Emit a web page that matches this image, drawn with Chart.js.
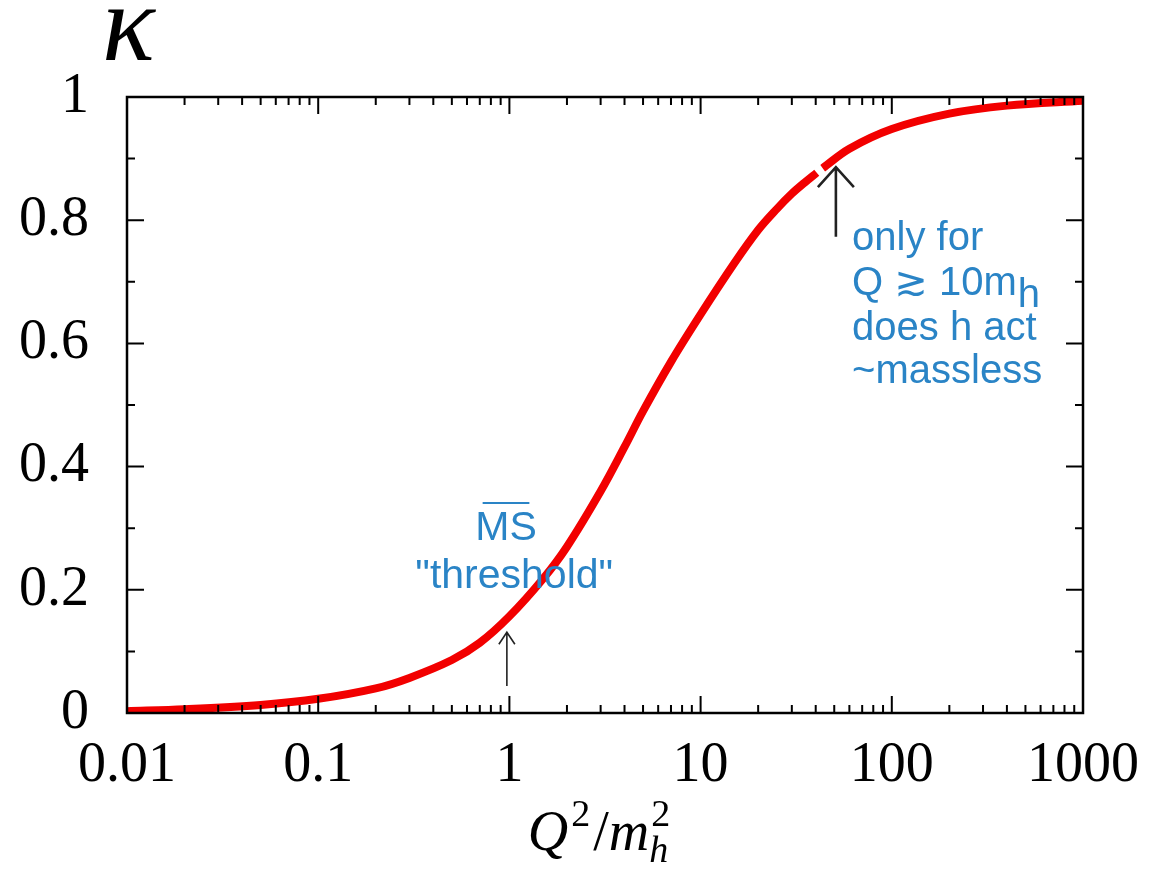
<!DOCTYPE html>
<html><head><meta charset="utf-8">
<script src="https://cdn.jsdelivr.net/npm/chart.js@4/dist/chart.umd.min.js"></script>
<style>html,body{margin:0;padding:0;background:#fff}canvas{display:block}</style>
</head><body>
<canvas id="c" width="1159" height="878"></canvas>
<script>
// Q^2/m_h^2 sample points and kappa values (null = small white gap in curve)
const qOverM = [0.01,0.02,0.05,0.1,0.2,0.3,0.5,0.7,1,1.5,2,3,4,5,7,10,15,20,25,30,35,40.5,42,43.5,60,100,200,400,1000];
const kappa  = [0.003,0.006,0.013,0.023,0.04,0.057,0.086,0.114,0.157,0.218,0.27,0.36,0.432,0.49,0.57,0.647,0.73,0.784,0.818,0.843,0.861,0.877,null,0.8845,0.916,0.948,0.973,0.986,0.994];
const xTickValues = [0.01,0.1,1,10,100,1000];
const xTickLabels = ['0.01','0.1','1','10','100','1000'];
const yTickValues = [0,0.2,0.4,0.6,0.8,1];
const yTickLabels = ['0','0.2','0.4','0.6','0.8','1'];

const SERIF = '"Liberation Serif","Times New Roman",serif';
const SANS = '"Liberation Sans",Arial,Helvetica,"DejaVu Sans",sans-serif';
const BLUE = '#2a84c6';

const frame = {
  id: 'frame',
  afterDraw(chart) {
    const {ctx, chartArea: a, scales: {x, y}} = chart;
    ctx.save();
    ctx.strokeStyle = '#000';
    ctx.lineWidth = 2.5;
    ctx.strokeRect(a.left, a.top, a.right - a.left, a.bottom - a.top);
    ctx.lineWidth = 2;
    ctx.beginPath();
    for (let i = 0; i <= 10; i++) {
      const py = y.getPixelForValue(i / 10);
      const L = i % 2 === 0 ? 17 : 8;
      ctx.moveTo(a.left, py); ctx.lineTo(a.left + L, py);
      ctx.moveTo(a.right, py); ctx.lineTo(a.right - L, py);
    }
    for (let d = -2; d <= 3; d++) {
      for (let m = 1; m <= 9; m++) {
        const v = m * Math.pow(10, d);
        if (v > 1000.0001) break;
        const px = x.getPixelForValue(v);
        const L = m === 1 ? 17 : 8;
        ctx.moveTo(px, a.bottom); ctx.lineTo(px, a.bottom - L);
        ctx.moveTo(px, a.top); ctx.lineTo(px, a.top + L);
      }
    }
    ctx.stroke();
    ctx.restore();
  }
};

function arrow(ctx, x, yTip, yEnd, hw, hh, lw) {
  ctx.lineWidth = lw;
  ctx.beginPath();
  ctx.moveTo(x, yEnd); ctx.lineTo(x, yTip);
  ctx.moveTo(x - hw, yTip + hh); ctx.lineTo(x, yTip); ctx.lineTo(x + hw, yTip + hh);
  ctx.stroke();
}

const notes = {
  id: 'notes',
  afterDraw(chart) {
    const {ctx, scales: {x, y}, chartArea: a} = chart;
    ctx.save();
    ctx.strokeStyle = '#222';
    ctx.lineCap = 'butt';
    // arrows
    arrow(ctx, x.getPixelForValue(0.97), y.getPixelForValue(0.131), y.getPixelForValue(0.044), 8, 12, 1.6);
    arrow(ctx, x.getPixelForValue(51), y.getPixelForValue(0.886), y.getPixelForValue(0.773), 18, 20, 2.6);

    // MS-bar "threshold"
    ctx.fillStyle = BLUE;
    ctx.textAlign = 'center';
    ctx.textBaseline = 'alphabetic';
    ctx.font = '41px ' + SANS;
    const msX = x.getPixelForValue(0.96), msY = y.getPixelForValue(0.281);
    ctx.fillText('MS', msX, msY);
    const w = ctx.measureText('MS').width;
    ctx.strokeStyle = BLUE; ctx.lineWidth = 2;
    ctx.beginPath(); ctx.moveTo(msX - w * 0.38, msY - 37); ctx.lineTo(msX + w * 0.38, msY - 37); ctx.stroke();
    ctx.fillText('"threshold"', x.getPixelForValue(1.06), y.getPixelForValue(0.203));

    // right note
    ctx.textAlign = 'left';
    ctx.font = '40px ' + SANS;
    const lx = x.getPixelForValue(62);
    ctx.fillText('only for', lx, y.getPixelForValue(0.7516));
    const l2 = y.getPixelForValue(0.6786);
    const s1 = 'Q \u2273 10m';
    ctx.fillText(s1, lx, l2);
    ctx.fillText('h', lx + ctx.measureText(s1).width + 1, l2 + 12);
    ctx.fillText('does h act', lx, y.getPixelForValue(0.6055));
    ctx.fillText('~massless', lx, y.getPixelForValue(0.5357));

    // y-axis title kappa
    ctx.fillStyle = '#000';
    ctx.font = 'italic 110px ' + SERIF;
    ctx.fillText('\u03ba', 102, 60);

    // x-axis title Q^2/m_h^2
    const base = 850;
    const big = '56px ' + SERIF, bigI = 'italic 56px ' + SERIF, sm = '38px ' + SERIF, smI = 'italic 38px ' + SERIF;
    const parts = [
      {t: 'Q', f: bigI, dy: 0, adv: true},
      {t: '2', f: sm, dy: -24, adv: true, pad: 3},
      {t: '/', f: big, dy: 0, adv: true, pad: 3},
      {t: 'm', f: bigI, dy: 0, adv: true},
      {t: '2', f: sm, dy: -24, adv: false, pad: 2},
      {t: 'h', f: smI, dy: 12, adv: true, pad: 0}
    ];
    let total = 0;
    const widths = parts.map(p => { ctx.font = p.f; return ctx.measureText(p.t).width; });
    parts.forEach((p, i) => { total += (p.pad || 0) + (p.adv ? widths[i] : 0); });
    let cx = (a.left + a.right) / 2 - total / 2 - 6;
    parts.forEach((p, i) => {
      ctx.font = p.f;
      cx += (p.pad || 0);
      ctx.fillText(p.t, cx, base + p.dy);
      if (p.adv) cx += widths[i]; else cx -= (p.pad || 0);
    });
    ctx.restore();
  }
};

new Chart(document.getElementById('c'), {
  type: 'line',
  data: {
    datasets: [{
      data: qOverM.map((q, i) => ({x: q, y: kappa[i]})),
      borderColor: '#f20000',
      borderWidth: 8,
      pointRadius: 0,
      fill: false,
      spanGaps: false,
      tension: 0.35,
      borderCapStyle: 'butt'
    }]
  },
  options: {
    responsive: false,
    animation: false,
    devicePixelRatio: 1,
    layout: {padding: {top: 97, right: 73, left: 0, bottom: 0}},
    plugins: {legend: {display: false}, tooltip: {enabled: false}},
    scales: {
      x: {
        type: 'logarithmic', min: 0.01, max: 1000,
        grid: {display: false, drawTicks: false},
        border: {display: false},
        afterBuildTicks(s) { s.ticks = xTickValues.map(v => ({value: v})); },
        ticks: {
          callback: (v, i) => xTickLabels[i],
          font: {family: SERIF, size: 56}, color: '#000',
          padding: 20, maxRotation: 0, autoSkip: false
        },
        afterFit(s) { s.height = 165; }
      },
      y: {
        min: 0, max: 1,
        grid: {display: false, drawTicks: false},
        border: {display: false},
        afterBuildTicks(s) { s.ticks = yTickValues.map(v => ({value: v})); },
        ticks: {
          callback: (v, i) => yTickLabels[i],
          font: {family: SERIF, size: 56}, color: '#000',
          padding: 38
        },
        afterFit(s) { s.width = 127; }
      }
    }
  },
  plugins: [frame, notes]
});
</script>
</body></html>
